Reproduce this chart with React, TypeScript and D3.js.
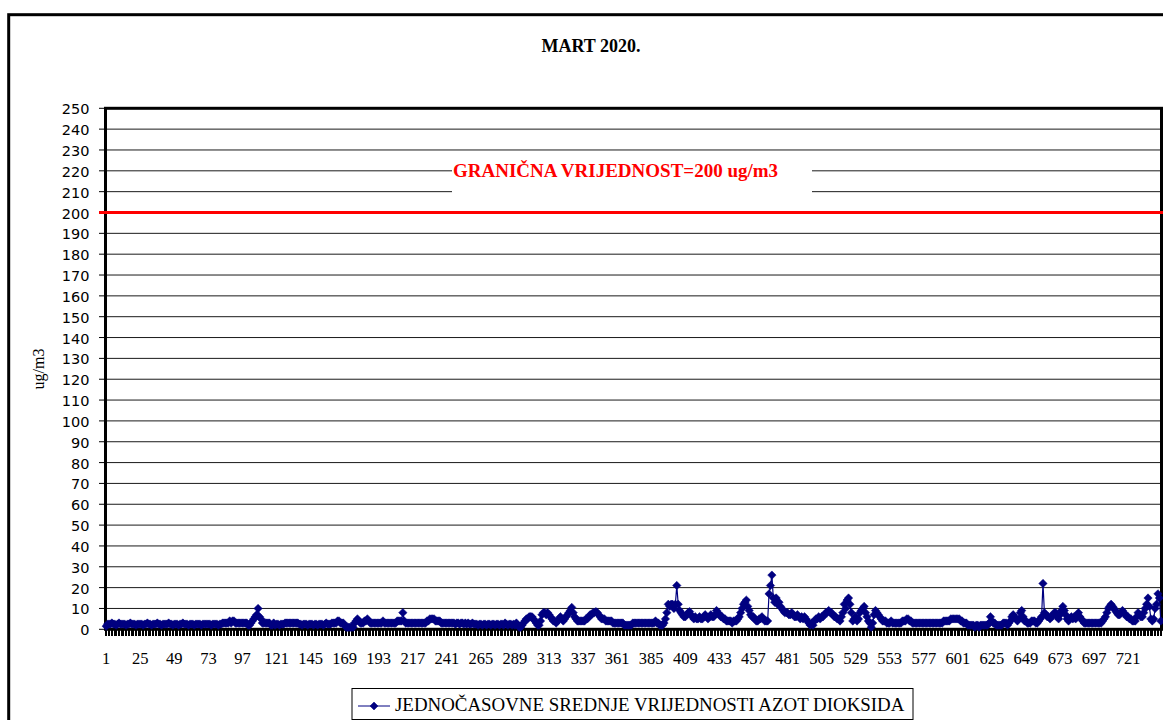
import React from 'react';
import * as d3 from 'd3';

// Hourly NO2 values (ug/m3), March 2020, one array per day (24 hours each)
const day01 = [1.5, 2.5, 2.5, 2.5, 3, 2.5, 2.5, 2, 2.5, 3, 2.5, 2.5, 2.5, 2.5, 2, 2.5, 2.5, 3, 2.5, 2.5, 2.5, 2, 2.5, 2.5];
const day02 = [2.5, 2.5, 2, 2.5, 2.5, 3, 2.5, 2.5, 2, 2.5, 2.5, 2.5, 3, 2.5, 2.5, 2, 2.5, 2.5, 2.5, 2.5, 3, 2.5, 2.5, 2];
const day03 = [2.5, 2.5, 2.5, 2, 2.5, 2.5, 3, 2.5, 2.5, 2.5, 2, 2.5, 2.5, 2.5, 2, 2.5, 2.5, 2.5, 2.5, 2, 2.5, 2.5, 2.5, 2.5];
const day04 = [2.5, 2.5, 2, 2.5, 2.5, 2.5, 2.5, 2, 2.5, 2.5, 3, 3, 3, 3, 3, 4, 3, 4, 4, 3, 3, 3, 3, 3];
const day05 = [3, 3, 3, 3, 2, 2, 3, 4, 5, 6, 7, 10, 6, 5, 3, 3, 3, 3, 3, 3, 2, 2, 3, 2];
const day06 = [2.5, 2.5, 2, 2.5, 2.5, 2.5, 3, 3, 3, 3, 3, 3, 3, 3, 3, 3, 2.5, 2.5, 2, 2.5, 2.5, 2.5, 2, 2.5];
const day07 = [2.5, 2.5, 2, 2.5, 2.5, 2, 2.5, 2.5, 2.5, 2, 2.5, 3, 2.5, 2.5, 2.5, 3, 3, 3, 3, 4, 4, 3, 3, 3];
const day08 = [2, 1, 1, 1, 1, 1, 1, 3, 4, 5, 4, 3, 3, 3, 4, 4, 5, 4, 3, 3, 3, 3, 3, 3];
const day09 = [3, 3, 3, 4, 3, 3, 3, 3, 3, 3, 3, 3, 3, 4, 4, 4, 4, 8, 4, 3, 3, 3, 3, 3];
const day10 = [3, 3, 3, 3, 3, 3, 3, 3, 3, 3, 4, 4, 5, 5, 5, 5, 4, 4, 4, 4, 3, 3, 3, 3];
const day11 = [3, 3, 3, 3, 3, 3, 2.5, 3, 3, 2.5, 3, 3, 2.5, 3, 2.5, 3, 2.5, 2.5, 3, 2.5, 2.5, 2.5, 2, 2.5];
const day12 = [2.5, 2, 2.5, 2.5, 2, 2.5, 2.5, 2, 2.5, 2.5, 2, 2.5, 2.5, 2, 2.5, 2.5, 2, 3, 2.5, 2, 2.5, 2.5, 2, 2.5];
const day13 = [2, 3, 2, 1, 1, 2, 3, 4, 5, 5, 6, 6, 6, 5, 4, 3, 2, 2, 4, 7, 8, 8, 7, 8];
const day14 = [7, 6, 5, 4, 4, 3, 4, 5, 6, 5, 4, 5, 6, 7, 8, 9, 10.5, 8, 6, 5, 4, 4, 4, 4];
const day15 = [4, 4, 5, 5, 6, 7, 7, 8, 8, 8.5, 8, 7, 6, 5, 5, 5, 4, 4, 4, 4, 4, 3, 3, 3];
const day16 = [3, 3, 3, 3, 3, 2, 2, 2, 2, 2, 2, 3, 3, 3, 3, 3, 3, 3, 3, 3, 3, 3, 3, 3];
const day17 = [3, 3, 3, 4, 3, 3, 2, 2, 2, 3, 5, 8, 12, 11, 12, 12, 10, 12, 21, 12, 9, 8, 7, 6];
const day18 = [6, 7, 8, 8.5, 7, 6, 5, 6, 5, 5, 6, 5, 5, 6, 7, 6, 5, 6, 7, 6, 6, 7, 9, 8];
const day19 = [7, 6, 6, 5, 5, 4, 4, 4, 4, 3, 4, 4, 4, 5, 6, 8, 10, 12, 13, 14, 11, 9, 7, 6];
const day20 = [6, 5, 4, 4, 5, 5, 6, 5, 4, 4, 4, 17, 21, 26, 15, 13, 15, 12, 13, 11, 10, 9, 8, 8];
const day21 = [8, 7, 7, 8, 7, 6, 6, 7, 6, 5, 6, 5, 6, 5, 4, 3, 2, 3, 2, 4, 5, 5, 6, 5];
const day22 = [6, 6, 7, 8, 8, 9, 8, 8, 7, 6, 6, 5, 5, 4, 6, 8, 12, 10, 14, 15, 12, 8, 4, 5];
const day23 = [6, 4, 5, 8, 9, 10, 11, 8, 6, 4, 3, 1, 3, 7, 9, 8, 7, 6, 5, 4, 4, 4, 3, 3];
const day24 = [3, 4, 3, 3, 3, 3, 3, 3, 3, 4, 4, 4, 5, 5, 4, 4, 3, 3, 3, 3, 3, 3, 3, 3];
const day25 = [3, 3, 3, 3, 3, 3, 3, 3, 3, 3, 3, 3, 3, 3, 4, 4, 4, 4, 4, 5, 5, 5, 5, 5];
const day26 = [5, 5, 4, 4, 3, 3, 3, 2, 2, 2, 2, 2, 1, 2, 2, 1, 2, 2, 2, 2, 2, 2, 3, 6];
const day27 = [4, 3, 3, 2, 2, 2, 2, 2, 3, 3, 3, 2, 3, 4, 6, 7, 6, 5, 4, 5, 8, 9, 6, 4];
const day28 = [4, 3, 3, 3, 4, 4, 4, 3, 3, 4, 5, 6, 22, 8, 7, 6, 6, 5, 6, 7, 8, 8, 6, 5];
const day29 = [7, 9, 11, 9, 7, 5, 4, 5, 6, 5, 6, 5, 7, 8, 6, 5, 4, 3, 3, 3, 3, 3, 3, 3];
const day30 = [3, 3, 3, 3, 3, 3, 4, 5, 6, 8, 10, 11, 12, 11, 10, 9, 8, 7, 7, 8, 9, 8, 7, 6];
const day31 = [6, 5, 5, 4, 4, 4, 6, 8, 7, 6, 6, 8, 10, 12, 15, 11, 5, 4, 5, 10, 12, 17, 15, 4];

const no2Hourly: number[] = [
  ...day01, ...day02, ...day03, ...day04, ...day05, ...day06, ...day07, ...day08,
  ...day09, ...day10, ...day11, ...day12, ...day13, ...day14, ...day15, ...day16,
  ...day17, ...day18, ...day19, ...day20, ...day21, ...day22, ...day23, ...day24,
  ...day25, ...day26, ...day27, ...day28, ...day29, ...day30, ...day31,
];

const yTickValues = [0, 10, 20, 30, 40, 50, 60, 70, 80, 90, 100, 110, 120, 130, 140, 150, 160, 170, 180, 190, 200, 210, 220, 230, 240, 250];
const xLabelHours = [1, 25, 49, 73, 97, 121, 145, 169, 193, 217, 241, 265, 289, 313, 337, 361, 385, 409, 433, 457, 481, 505, 529, 553, 577, 601, 625, 649, 673, 697, 721];
const limitValue = 200;
const chartTitle = 'MART 2020.';
const limitLabel = 'GRANIČNA VRIJEDNOST=200 ug/m3';
const seriesName = 'JEDNOČASOVNE SREDNJE VRIJEDNOSTI AZOT DIOKSIDA';
const yAxisTitle = 'ug/m3';

const SERIF = "'Liberation Serif', 'Times New Roman', serif";
const SANS = "'DejaVu Sans', Verdana, sans-serif";
const NAVY = '#000080';

const diamond = (r: number) => `M0,${-r}L${r},0L0,${r}L${-r},0Z`;

export default function App() {
  const W = 1163;
  const H = 720;
  const left = 105.5;
  const right = 1161.5;
  const top = 108.3;
  const bottom = 629.3;

  const hours = no2Hourly.map((_, i) => i + 1);
  const x = d3.scaleBand<number>().domain(hours).range([left, right]).paddingInner(0).paddingOuter(0);
  const bw = x.bandwidth();
  const cx = (h: number) => (x(h) as number) + bw / 2;
  const y = d3.scaleLinear().domain([0, 250]).range([bottom, top]);

  const linePath = d3
    .line<number>()
    .x((_, i) => cx(i + 1))
    .y((d) => y(d))(no2Hourly) as string;

  const tickXs = hours.map((h) => x(h) as number).concat([right]);

  return (
    <svg width={W} height={H} style={{ position: 'absolute', left: 0, top: 0, background: '#fff' }}>
      <rect x={0} y={0} width={W} height={H} fill="#fff" />
      {/* outer chart border */}
      <rect x={8.7} y={14.7} width={1200} height={760} fill="none" stroke="#000" strokeWidth={3} />

      {/* title */}
      <text x={591} y={52.3} textAnchor="middle" fontFamily={SERIF} fontWeight="bold" fontSize={18} fill="#000">
        {chartTitle}
      </text>

      {/* gridlines */}
      {yTickValues.filter((v) => v > 0 && v < 250).map((v) => (
        <line key={'g' + v} x1={left} x2={right} y1={y(v)} y2={y(v)} stroke="#1a1a1a" strokeWidth={1} />
      ))}

      {/* limit label box */}
      <rect x={452} y={156} width={360} height={44} fill="#fff" />
      <text x={453} y={176.7} fontFamily={SERIF} fontWeight="bold" fontSize={19} fill="#ff0000">
        {limitLabel}
      </text>

      {/* y ticks and labels */}
      {yTickValues.map((v) => (
        <g key={'y' + v}>
          <line x1={99} x2={left} y1={y(v)} y2={y(v)} stroke="#000" strokeWidth={1} />
          <text x={89.5} y={y(v) + 1} textAnchor="end" dominantBaseline="central" fontFamily={SANS} fontSize={14.5} fill="#000">
            {v}
          </text>
        </g>
      ))}

      {/* y axis title */}
      <text transform={`translate(44,369) rotate(-90)`} textAnchor="middle" fontFamily={SERIF} fontSize={16} fill="#000">
        {yAxisTitle}
      </text>

      {/* x ticks */}
      <g shapeRendering="crispEdges">
        {tickXs.map((tx, i) => (
          <line key={'t' + i} x1={tx} x2={tx} y1={bottom} y2={bottom + 7} stroke="#000" strokeWidth={1} />
        ))}
      </g>

      {/* x labels */}
      {xLabelHours.map((h) => (
        <text key={'x' + h} x={cx(h)} y={664} textAnchor="middle" fontFamily={SERIF} fontSize={16.5} fill="#000">
          {h}
        </text>
      ))}

      {/* plot area border */}
      <rect x={left} y={top} width={right - left} height={bottom - top} fill="none" stroke="#000" strokeWidth={3} />

      {/* limit line */}
      <line x1={99} x2={W} y1={y(limitValue)} y2={y(limitValue)} stroke="#ff0000" strokeWidth={3} />

      {/* data series */}
      <path d={linePath} fill="none" stroke={NAVY} strokeWidth={1.2} />
      {no2Hourly.map((v, i) => (
        <path key={'m' + i} d={diamond(4.2)} transform={`translate(${cx(i + 1)},${y(v)})`} fill={NAVY} stroke={NAVY} strokeWidth={0.5} />
      ))}

      {/* legend */}
      <rect x={352} y={688.5} width={561} height={31} fill="#fff" stroke="#000" strokeWidth={1} />
      <line x1={358} x2={390} y1={706} y2={706} stroke={NAVY} strokeWidth={1} />
      <path d={diamond(4)} transform="translate(374,706)" fill={NAVY} stroke={NAVY} strokeWidth={0.5} />
      <text x={395} y={710.7} fontFamily={SERIF} fontSize={18.9} fill="#000">
        {seriesName}
      </text>
    </svg>
  );
}
